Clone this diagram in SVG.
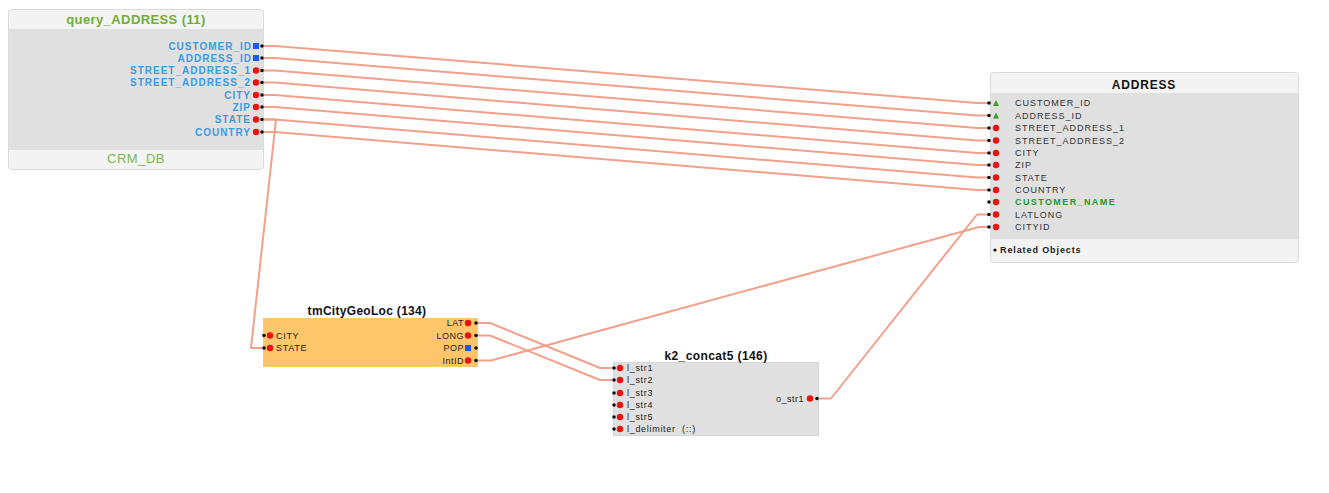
<svg xmlns="http://www.w3.org/2000/svg" width="1329" height="493" viewBox="0 0 1329 493">
  <style>
    text { font-family: "Liberation Sans", Arial, sans-serif; }
    .frame { fill: #f3f3f3; stroke: #dadada; stroke-width: 1; }
    .body { fill: #e0e0e0; }
    .ttl { font-size: 12px; font-weight: bold; fill: #111; text-anchor: middle; }
    .qlbl { font-size: 10px; font-weight: bold; fill: #3b9be6; text-anchor: end; letter-spacing: 1px; }
    .alb { font-size: 9px; fill: #333; letter-spacing: 1px; }
    .plb { font-size: 9px; fill: #222; letter-spacing: 0.7px; }
    .plr { font-size: 9px; fill: #222; text-anchor: end; letter-spacing: 0.5px; }
    .red { fill: #f01010; }
    .blk { fill: #111; }
    .blu { fill: #1a5cf0; }
    .grn { fill: #3ca020; }
    .wire { fill: none; stroke: #f2a08a; stroke-width: 2; stroke-linejoin: round; }
  </style>

  <!-- connectors -->
  <g id="connectors">
    <polyline class="wire" points="263,46 275,46 977,103 988,103"/>
    <polyline class="wire" points="263,58 275,58 977,115.5 988,115.5"/>
    <polyline class="wire" points="263,70.5 275,70.5 977,128 988,128"/>
    <polyline class="wire" points="263,82.5 275,82.5 977,140.5 988,140.5"/>
    <polyline class="wire" points="263,95 275,95 977,153 988,153"/>
    <polyline class="wire" points="263,107 275,107 977,165 988,165"/>
    <polyline class="wire" points="263,119.5 275,119.5 977,177.5 988,177.5"/>
    <polyline class="wire" points="263,132 275,132 977,190 988,190"/>
    <polyline class="wire" points="263,119.5 276,119.5 251,348 262,348"/>
    <polyline class="wire" points="477,323 490,323 600,368 612,368"/>
    <polyline class="wire" points="477,335.5 490,335.5 600,380 612,380"/>
    <polyline class="wire" points="477,360.5 491,360.5 979,227 988,227"/>
    <polyline class="wire" points="818,398.5 831,398.5 977,214.5 988,214.5"/>
  </g>

  <!-- query node -->
  <g id="query_ADDRESS">
    <rect class="frame" x="8.5" y="9.5" width="255" height="160" rx="3"/>
    <rect class="body" x="9" y="29" width="254" height="121"/>
    <text x="136" y="24" font-size="13" font-weight="bold" fill="#6fae3a" text-anchor="middle" letter-spacing="0.4">query_ADDRESS (11)</text>
    <text x="136" y="163" font-size="13" fill="#7cba4a" text-anchor="middle" letter-spacing="0.5">CRM_DB</text>
    <text class="qlbl" x="252" y="49.5">CUSTOMER_ID</text>
    <text class="qlbl" x="252" y="61.5">ADDRESS_ID</text>
    <text class="qlbl" x="251" y="74">STREET_ADDRESS_1</text>
    <text class="qlbl" x="251" y="86">STREET_ADDRESS_2</text>
    <text class="qlbl" x="251" y="98.5">CITY</text>
    <text class="qlbl" x="251" y="110.5">ZIP</text>
    <text class="qlbl" x="251" y="123">STATE</text>
    <text class="qlbl" x="251" y="135.5">COUNTRY</text>
    <rect class="blu" x="253" y="43" width="6" height="6"/>
    <rect class="blu" x="253" y="55" width="6" height="6"/>
    <circle class="red" cx="256" cy="70.5" r="3.2"/>
    <circle class="red" cx="256" cy="82.5" r="3.2"/>
    <circle class="red" cx="256" cy="95" r="3.2"/>
    <circle class="red" cx="256" cy="107" r="3.2"/>
    <circle class="red" cx="256" cy="119.5" r="3.2"/>
    <circle class="red" cx="256" cy="132" r="3.2"/>
    <circle class="blk" cx="262" cy="46" r="1.8"/>
    <circle class="blk" cx="262" cy="58" r="1.8"/>
    <circle class="blk" cx="262" cy="70.5" r="1.8"/>
    <circle class="blk" cx="262" cy="82.5" r="1.8"/>
    <circle class="blk" cx="262" cy="95" r="1.8"/>
    <circle class="blk" cx="262" cy="107" r="1.8"/>
    <circle class="blk" cx="262" cy="119.5" r="1.8"/>
    <circle class="blk" cx="262" cy="132" r="1.8"/>
  </g>

  <!-- target table -->
  <g id="ADDRESS">
    <rect class="frame" x="990.5" y="72.5" width="308" height="190" rx="3"/>
    <rect class="body" x="991" y="93" width="307" height="146"/>
    <text class="ttl" x="1144" y="88.5" font-size="13" letter-spacing="0.8">ADDRESS</text>
    <text class="alb" x="1015" y="106">CUSTOMER_ID</text>
    <text class="alb" x="1015" y="118.5">ADDRESS_ID</text>
    <text class="alb" x="1015" y="131">STREET_ADDRESS_1</text>
    <text class="alb" x="1015" y="143.5">STREET_ADDRESS_2</text>
    <text class="alb" x="1015" y="156">CITY</text>
    <text class="alb" x="1015" y="168">ZIP</text>
    <text class="alb" x="1015" y="180.5">STATE</text>
    <text class="alb" x="1015" y="193">COUNTRY</text>
    <text x="1015" y="205" font-size="9" font-weight="bold" fill="#1f9a1f" letter-spacing="1.4">CUSTOMER_NAME</text>
    <text class="alb" x="1015" y="217.5">LATLONG</text>
    <text class="alb" x="1015" y="230">CITYID</text>
    <polygon class="grn" points="996,100 999,106 993,106"/>
    <polygon class="grn" points="996,112.5 999,118.5 993,118.5"/>
    <circle class="red" cx="996" cy="128" r="3.2"/>
    <circle class="red" cx="996" cy="140.5" r="3.2"/>
    <circle class="red" cx="996" cy="153" r="3.2"/>
    <circle class="red" cx="996" cy="165" r="3.2"/>
    <circle class="red" cx="996" cy="177.5" r="3.2"/>
    <circle class="red" cx="996" cy="190" r="3.2"/>
    <circle class="red" cx="996" cy="202" r="3.2"/>
    <circle class="red" cx="996" cy="214.5" r="3.2"/>
    <circle class="red" cx="996" cy="227" r="3.2"/>
    <circle class="blk" cx="989" cy="103" r="1.8"/>
    <circle class="blk" cx="989" cy="115.5" r="1.8"/>
    <circle class="blk" cx="989" cy="128" r="1.8"/>
    <circle class="blk" cx="989" cy="140.5" r="1.8"/>
    <circle class="blk" cx="989" cy="153" r="1.8"/>
    <circle class="blk" cx="989" cy="165" r="1.8"/>
    <circle class="blk" cx="989" cy="177.5" r="1.8"/>
    <circle class="blk" cx="989" cy="190" r="1.8"/>
    <circle class="blk" cx="989" cy="202" r="1.8"/>
    <circle class="blk" cx="989" cy="214.5" r="1.8"/>
    <circle class="blk" cx="989" cy="227" r="1.8"/>
    <circle class="blk" cx="995" cy="250" r="1.6"/>
    <text x="1000" y="253" font-size="9" font-weight="bold" fill="#222" letter-spacing="0.9">Related Objects</text>
  </g>

  <!-- lookup transform -->
  <g id="tmCityGeoLoc">
    <rect x="263" y="318" width="215" height="49" fill="#fdc66a"/>
    <text class="ttl" x="367" y="315" letter-spacing="0.3">tmCityGeoLoc (134)</text>
    <text class="plb" x="276" y="338.5">CITY</text>
    <text class="plb" x="276" y="351">STATE</text>
    <circle class="blk" cx="264" cy="335.5" r="1.8"/>
    <circle class="blk" cx="264" cy="348" r="1.8"/>
    <circle class="red" cx="270" cy="335.5" r="3.2"/>
    <circle class="red" cx="270" cy="348" r="3.2"/>
    <text class="plr" x="464" y="326">LAT</text>
    <text class="plr" x="464" y="338.5">LONG</text>
    <text class="plr" x="464" y="351">POP</text>
    <text class="plr" x="464" y="363.5">IntID</text>
    <circle class="red" cx="468" cy="323" r="3.2"/>
    <circle class="red" cx="468" cy="335.5" r="3.2"/>
    <rect class="blu" x="465" y="345" width="6" height="6"/>
    <circle class="red" cx="468" cy="360.5" r="3.2"/>
    <circle class="blk" cx="476" cy="323" r="1.8"/>
    <circle class="blk" cx="476" cy="335.5" r="1.8"/>
    <circle class="blk" cx="476" cy="348" r="1.8"/>
    <circle class="blk" cx="476" cy="360.5" r="1.8"/>
  </g>

  <!-- concat transform -->
  <g id="k2_concat5">
    <rect x="613.5" y="362.5" width="205" height="73" fill="#e0e0e0" stroke="#d6d6d6"/>
    <text class="ttl" x="716" y="359.5" font-size="13" letter-spacing="0.4">k2_concat5 (146)</text>
    <text class="plb" x="627" y="371">l_str1</text>
    <text class="plb" x="627" y="383">l_str2</text>
    <text class="plb" x="627" y="396">l_str3</text>
    <text class="plb" x="627" y="408">l_str4</text>
    <text class="plb" x="627" y="420">l_str5</text>
    <text class="plb" x="627" y="432" xml:space="preserve">l_delimiter  (::)</text>
    <circle class="blk" cx="614" cy="368" r="1.8"/>
    <circle class="blk" cx="614" cy="380" r="1.8"/>
    <circle class="blk" cx="614" cy="393" r="1.8"/>
    <circle class="blk" cx="614" cy="405" r="1.8"/>
    <circle class="blk" cx="614" cy="417" r="1.8"/>
    <circle class="blk" cx="614" cy="429" r="1.8"/>
    <circle class="red" cx="620" cy="368" r="3.2"/>
    <circle class="red" cx="620" cy="380" r="3.2"/>
    <circle class="red" cx="620" cy="393" r="3.2"/>
    <circle class="red" cx="620" cy="405" r="3.2"/>
    <circle class="red" cx="620" cy="417" r="3.2"/>
    <circle class="red" cx="620" cy="429" r="3.2"/>
    <text class="plr" x="804" y="401.5" letter-spacing="1">o_str1</text>
    <circle class="red" cx="810" cy="398.5" r="3.2"/>
    <circle class="blk" cx="817" cy="398.5" r="1.8"/>
  </g>
</svg>
